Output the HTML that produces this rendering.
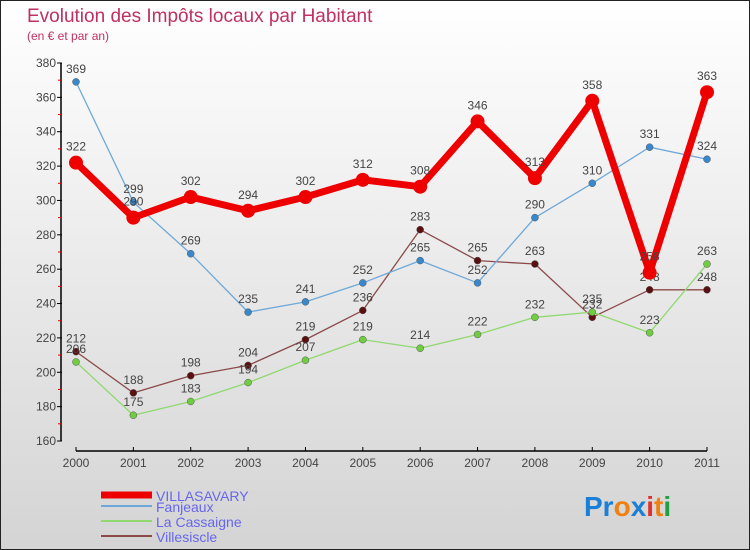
<!DOCTYPE html>
<html><head><meta charset="utf-8"><style>
body{margin:0}
#wrap{position:relative;width:750px;height:550px;box-sizing:border-box;border:1px solid #222;background:linear-gradient(#fff,#d4d4d4);font-family:"Liberation Sans",sans-serif;overflow:hidden}
svg text{font-family:"Liberation Sans",sans-serif}
</style></head><body>
<div id="wrap">
<svg id="s" width="750" height="550">
<text x="26" y="21" font-size="19" fill="#c03060">Evolution des Impôts locaux par Habitant</text>
<text x="26" y="39" font-size="12" fill="#c03060">(en € et par an)</text>
<g id="axes"></g><g id="series"></g><g id="legend"></g>
<text x="583" y="515" font-size="28" font-weight="bold"><tspan fill="#1a7fd6">Pr</tspan><tspan fill="#f08010">o</tspan><tspan fill="#1a7fd6">x</tspan><tspan fill="#e03030">i</tspan><tspan fill="#f08010">t</tspan><tspan fill="#20a040">i</tspan></text>
</svg></div>
<script>
const years=[2000,2001,2002,2003,2004,2005,2006,2007,2008,2009,2010,2011];
const yTicks=[160,180,200,220,240,260,280,300,320,340,360,380];
const villasavary=[322,290,302,294,302,312,308,346,313,358,258,363];
const fanjeaux=[369,299,269,235,241,252,265,252,290,310,331,324];
const laCassaigne=[206,175,183,194,207,219,214,222,232,235,223,263];
const villesiscle=[212,188,198,204,219,236,283,265,263,232,248,248];
const NS="http://www.w3.org/2000/svg";
const X=i=>75+i*(706-75)/11;
const Y=v=>440-(v-160)*(440-62)/220;
function mk(t,a,p){const e=document.createElementNS(NS,t);for(const k in a)e.setAttribute(k,a[k]);p.appendChild(e);return e;}
const ax=document.getElementById('axes');
let l=mk('line',{x1:60,y1:62,x2:60,y2:440,stroke:'#000','stroke-width':1.5},ax);


l=mk('line',{x1:75,y1:450,x2:706,y2:450,stroke:'#000','stroke-width':1.5},ax);


yTicks.forEach((v,i)=>{
  mk('line',{x1:56,y1:Y(v),x2:61,y2:Y(v),stroke:'#000'},ax);
  if(i<yTicks.length-1)mk('line',{x1:57,y1:Y(v+10),x2:60,y2:Y(v+10),stroke:'#e00'},ax);
  const t=mk('text',{x:55,y:Y(v)+4,'font-size':12,fill:'#444','text-anchor':'end'},ax);t.textContent=v;
  
  
});
years.forEach((y,i)=>{
  mk('line',{x1:X(i),y1:446,x2:X(i),y2:450,stroke:'#000'},ax);
  const t=mk('text',{x:X(i),y:466,'font-size':12,fill:'#444','text-anchor':'middle'},ax);t.textContent=y;
  
  
});
const ser=[
 {d:villesiscle,c:'#8b4a4a',pc:'#5a1010',w:1.3,r:3.5,n:'villesiscle'},
 {d:laCassaigne,c:'#90d870',pc:'#70cc40',w:1.3,r:3.5,n:'la-cassaigne'},
 {d:fanjeaux,c:'#6fa8d8',pc:'#3a88cc',w:1.3,r:3.5,n:'fanjeaux'},
 {d:villasavary,c:'#ee0000',pc:'#ee0000',w:7,r:7,n:'villasavary'}];
const sg=document.getElementById('series');
ser.forEach(s=>{
  const g=mk('g',{},sg);
  
  
  const p=mk('polyline',{points:s.d.map((v,i)=>X(i)+','+Y(v)).join(' '),fill:'none',stroke:s.c,'stroke-width':s.w,'stroke-linejoin':'round'},g);
  
  
  s.d.forEach((v,i)=>{
    const c=mk('circle',{cx:X(i),cy:Y(v),r:s.r,fill:s.pc,stroke:s.w>2?'none':'#555','stroke-width':0.5},g);
    
    
    const t=mk('text',{x:X(i),y:Y(v)-(s.w>2?12:9),'font-size':12,fill:'#444','text-anchor':'middle'},g);t.textContent=v;
    
    
  });
});
const lg=document.getElementById('legend');
[['VILLASAVARY','#ee0000',7,497],['Fanjeaux','#6fa8d8',2,508],['La Cassaigne','#90d870',2,523],['Villesiscle','#8b4a4a',2,538]].forEach(e=>{
  const g=mk('g',{},lg);
  
  
  mk('line',{x1:100,y1:e[3]-3,x2:151,y2:e[3]-3,stroke:e[1],'stroke-width':e[2]},g);
  const t=mk('text',{x:155,y:e[3]+3,'font-size':14,fill:'#6666ee'},g);t.textContent=e[0];
});
</script>
</body></html>
